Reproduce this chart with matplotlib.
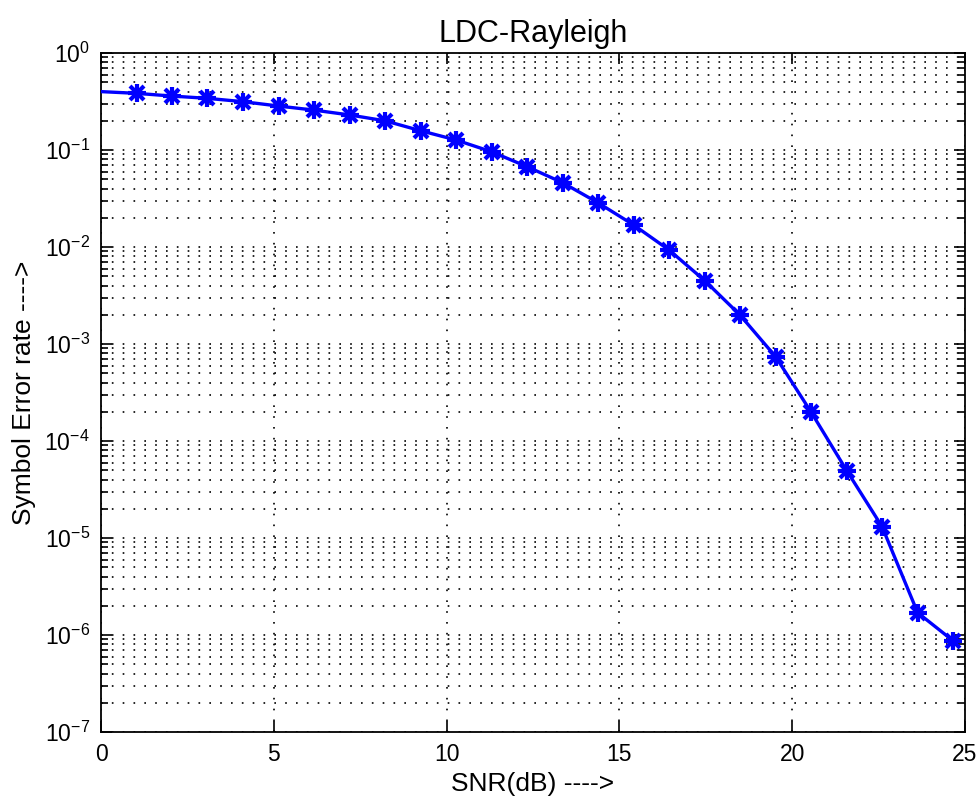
import numpy as np
import matplotlib
matplotlib.use("Agg")
import matplotlib.pyplot as plt
from matplotlib.ticker import LogLocator, FixedLocator, NullFormatter

# SER vs SNR for the LDC scheme over a Rayleigh channel
snr_db = [0.0, 1.03, 2.05, 3.08, 4.11, 5.14, 6.16, 7.19, 8.22, 9.25, 10.27,
          11.30, 12.33, 13.36, 14.38, 15.41, 16.44, 17.47, 18.49, 19.52,
          20.55, 21.58, 22.60, 23.63, 24.66]
ser = [0.40, 0.384, 0.36, 0.341, 0.315, 0.284, 0.258, 0.23, 0.20, 0.158,
       0.127, 0.096, 0.0673, 0.046, 0.0286, 0.0169, 0.0093, 0.0045,
       0.00199, 7.4e-4, 1.98e-4, 4.94e-5, 1.31e-5, 1.7e-6, 8.7e-7]

plt.rcParams.update({
    "font.family": ["Liberation Sans", "DejaVu Sans"],
    "mathtext.fontset": "custom",
    "mathtext.rm": "Liberation Sans",
    "mathtext.it": "Liberation Sans:italic",
    "mathtext.bf": "Liberation Sans:bold",
})

BLUE = "#0000ff"
fig = plt.figure(figsize=(9.78, 8.07), dpi=100)
ax = fig.add_axes([0.1033, 0.0929, 0.8834, 0.8414])

# line first, then an asterisk marker built from '+' and 'x'
ax.semilogy(snr_db, ser, color=BLUE, lw=2.4, zorder=3)
marked = list(range(1, len(snr_db)))
for m, ms in (("+", 13), ("x", 10)):
    ax.semilogy(snr_db, ser, linestyle="none", marker=m, color=BLUE,
                markersize=ms, markeredgewidth=3.0, markevery=marked, zorder=4)

ax.set_xlim(0, 25)
ax.set_ylim(1e-7, 1)
ax.xaxis.set_major_locator(FixedLocator([0, 5, 10, 15, 20, 25]))
ax.yaxis.set_major_locator(LogLocator(base=10, numticks=20))
ax.yaxis.set_minor_locator(LogLocator(base=10, subs=np.arange(2, 10), numticks=20))
ax.yaxis.set_minor_formatter(NullFormatter())

dots = (0, (1, 5.5))
ax.grid(True, which="major", axis="both", color="black", lw=1.2, linestyle=dots)
ax.grid(True, which="minor", axis="y", color="black", lw=1.2, linestyle=dots)

ax.tick_params(which="both", direction="in", top=True, right=True,
               labelsize=16.5, colors="black")
ax.tick_params(which="major", length=8, width=1.2, pad=8)
ax.tick_params(which="minor", length=5, width=1.2)
for sp in ax.spines.values():
    sp.set_linewidth(1.3)

ax.set_title("LDC-Rayleigh", fontsize=22, pad=8)
ax.set_xlabel("SNR(dB) ---->", fontsize=19, labelpad=4)
ax.set_ylabel("Symbol Error rate ---->", fontsize=19, labelpad=6)

fig.savefig("out.png", dpi=100, facecolor="white")
